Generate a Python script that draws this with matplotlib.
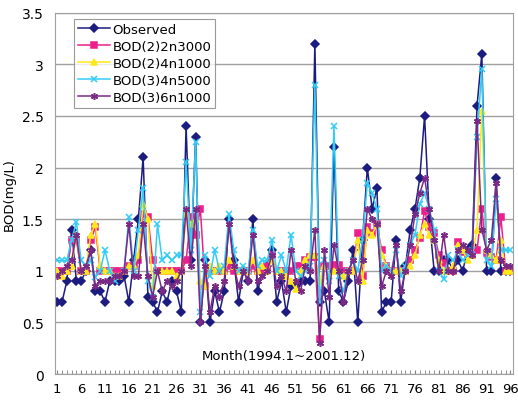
import matplotlib
matplotlib.use("Agg")
from matplotlib import pyplot as plt
from matplotlib.ticker import MultipleLocator, FixedLocator, FixedFormatter

months = list(range(1, 97))

observed = [0.7, 0.7, 0.9, 1.4, 0.9, 0.9, 1.0, 1.2, 0.8, 0.8, 0.7, 0.9,
            0.9, 0.9, 0.95, 0.7, 1.1, 1.5, 2.1, 0.75, 0.7, 0.6, 0.8, 0.7,
            0.9, 0.8, 0.6, 2.4, 1.1, 2.3, 0.5, 1.1, 0.5, 0.8, 0.6, 0.8,
            1.5, 1.1, 0.7, 1.0, 0.9, 1.5, 0.8, 1.0, 1.05, 1.2, 0.7, 0.9,
            0.6, 0.85, 0.85, 0.9, 0.9, 0.9, 3.2, 0.7, 0.8, 0.5, 2.2, 0.8,
            0.7, 0.9, 1.2, 0.5, 1.3, 2.0, 1.6, 1.8, 0.6, 0.7, 0.7, 1.3,
            0.7, 1.05, 1.4, 1.6, 1.9, 2.5, 1.5, 1.0, 1.0, 1.1, 1.1, 1.0,
            1.1, 1.0, 1.2, 1.25, 2.6, 3.1, 1.0, 1.0, 1.9, 1.0, 1.0, 1.0]

bod2_2n3000 = [1.0, 1.0, 1.0, 1.3, 1.3, 1.0, 1.0, 1.3, 1.42, 1.0, 1.0, 1.0,
               1.0, 1.0, 1.0, 1.05, 1.05, 1.1, 1.55, 1.52, 1.1, 1.0, 1.0, 1.0,
               1.0, 1.0, 1.0, 1.1, 1.52, 1.35, 1.6, 0.85, 1.0, 1.0, 1.0, 1.0,
               1.05, 1.0, 1.0, 1.0, 1.0, 1.05, 1.0, 1.0, 1.05, 1.15, 1.0, 1.0,
               1.0, 1.0, 1.05, 1.05, 1.1, 1.13, 1.13, 0.34, 1.05, 1.05, 1.06, 1.06,
               1.0, 1.0, 1.0, 1.37, 0.95, 1.42, 1.37, 1.45, 1.2, 1.05, 1.0, 1.0,
               1.0, 1.0, 1.1, 1.2, 1.32, 1.58, 1.42, 1.37, 1.15, 1.08, 1.0, 1.0,
               1.28, 1.18, 1.15, 1.15, 1.2, 1.6, 1.17, 1.13, 1.1, 1.52, 1.0, 1.0]

bod2_4n1000 = [1.0, 0.95, 1.0, 1.05, 1.35, 1.0, 1.0, 1.35, 1.45, 1.05, 1.0, 1.0,
               0.95, 0.95, 1.0, 1.05, 1.05, 1.15, 1.65, 1.5, 0.85, 1.0, 1.0, 1.0,
               1.0, 0.95, 1.0, 1.55, 1.45, 1.5, 0.9, 0.85, 1.05, 1.0, 1.05, 1.0,
               1.1, 1.05, 1.0, 1.0, 1.0, 1.1, 1.0, 1.05, 1.0, 1.1, 1.0, 1.0,
               0.95, 0.9, 0.82, 1.0, 1.1, 1.15, 1.15, 0.9, 1.05, 0.95, 1.0, 1.0,
               0.95, 1.0, 1.0, 1.3, 0.9, 1.4, 1.35, 1.45, 1.15, 1.05, 1.0, 1.0,
               1.0, 1.0, 1.05, 1.15, 1.35, 1.45, 1.35, 1.3, 1.1, 1.0, 1.0, 1.05,
               1.25, 1.2, 1.1, 1.15, 1.4, 2.55, 1.2, 1.15, 1.1, 1.3, 1.0, 1.0]

bod3_4n5000 = [1.1, 1.1, 1.1, 1.3, 1.47, 1.1, 1.05, 1.1, 0.94, 1.0, 1.2, 1.0,
               0.9, 0.95, 1.0, 1.52, 1.0, 1.4, 1.8, 0.9, 0.75, 1.45, 1.1, 1.15,
               1.1, 1.15, 1.15, 2.05, 1.2, 2.25, 0.6, 1.15, 0.95, 1.2, 1.0, 1.05,
               1.55, 1.2, 1.0, 1.05, 1.0, 1.4, 1.05, 1.1, 1.1, 1.3, 1.0, 1.15,
               1.0, 1.35, 1.0, 0.95, 1.0, 1.05, 2.8, 0.7, 1.1, 0.9, 2.4, 0.95,
               0.8, 1.0, 1.1, 1.0, 1.3, 1.85, 1.75, 1.6, 1.0, 1.05, 1.0, 1.2,
               0.95, 1.05, 1.25, 1.35, 1.65, 1.75, 1.6, 1.4, 1.0, 0.92, 1.15, 1.1,
               1.2, 1.1, 1.15, 1.2, 2.3, 2.95, 1.1, 1.05, 1.7, 1.2, 1.2, 1.2]

bod3_6n1000 = [0.95, 1.0, 1.05, 1.1, 1.35, 1.0, 1.05, 1.2, 0.85, 0.9, 0.9, 0.9,
               0.95, 0.95, 1.0, 1.45, 0.95, 0.95, 1.45, 0.95, 0.75, 1.0, 0.8, 0.9,
               0.85, 0.9, 1.0, 1.6, 1.05, 1.6, 0.5, 1.05, 0.6, 0.85, 0.75, 0.9,
               1.45, 1.05, 0.85, 1.0, 0.9, 1.35, 0.9, 0.95, 1.0, 1.15, 0.85, 0.95,
               0.8, 1.2, 0.9, 0.8, 1.05, 1.0, 1.4, 0.3, 1.2, 0.75, 1.25, 1.0,
               0.7, 1.0, 1.1, 0.9, 1.1, 1.6, 1.5, 1.45, 0.85, 1.0, 0.95, 1.25,
               0.8, 1.0, 1.25, 1.55, 1.75, 1.9, 1.6, 1.3, 1.0, 1.35, 1.0, 1.0,
               1.2, 1.25, 1.2, 1.15, 2.45, 1.4, 1.2, 1.3, 1.85, 1.1, 1.05, 1.05]

x_labels = list(range(1, 97, 5))
y_ticks = [0, 0.5, 1, 1.5, 2, 2.5, 3, 3.5]
y_labels = ["0", "0.5", "1", "1.5", "2", "2.5", "3", "3.5"]

fig = plt.figure(figsize=(5.18, 4.02), dpi=100)
ax = fig.add_axes([0.106, 0.067, 0.884, 0.899])

series = [
    ("Observed", observed, "#1c1c80", "D", 3.8),
    ("BOD(2)2n3000", bod2_2n3000, "#ee1f8c", "s", 3.8),
    ("BOD(2)4n1000", bod2_4n1000, "#ffe81a", "^", 4.2),
    ("BOD(3)4n5000", bod3_4n5000, "#33ccf5", "x", 4.5),
    ("BOD(3)6n1000", bod3_6n1000, "#7a2a86", (6, 2, 0), 5.0),
]
for name, vals, col, mk, ms in series:
    ax.plot(months, vals, color=col, marker=mk, markersize=ms, linewidth=1.1,
            markeredgewidth=1.1, label=name)

ax.set_xlim(0.5, 96.5)
ax.set_ylim(0, 3.5)
ax.yaxis.set_major_locator(FixedLocator(y_ticks))
ax.yaxis.set_major_formatter(FixedFormatter(y_labels))
ax.grid(axis="y", color="#a0a0a0", linewidth=1.0)
ax.set_axisbelow(True)
ax.xaxis.set_major_locator(FixedLocator(x_labels))
ax.xaxis.set_minor_locator(MultipleLocator(1))
ax.tick_params(axis="x", which="both", direction="in", length=3, color="#808080",
               labelsize=9.5, pad=6)
ax.tick_params(axis="y", length=0, labelsize=10, pad=8)
for s in ax.spines.values():
    s.set_color("#a0a0a0")

ax.set_ylabel("BOD(mg/L)", fontsize=9.5, labelpad=4)
ax.text(0.5, 0.052, "Month(1994.1~2001.12)", transform=ax.transAxes,
        ha="center", va="center", fontsize=9.5)

leg = ax.legend(loc="upper left", bbox_to_anchor=(0.036, 0.99), fontsize=9.5,
                fancybox=False, edgecolor="#808080", handlelength=2.4,
                borderpad=0.3, labelspacing=0.3, handletextpad=0.2,
                borderaxespad=0.2)
leg.get_frame().set_linewidth(0.8)

fig.savefig("out.png", dpi=100)
